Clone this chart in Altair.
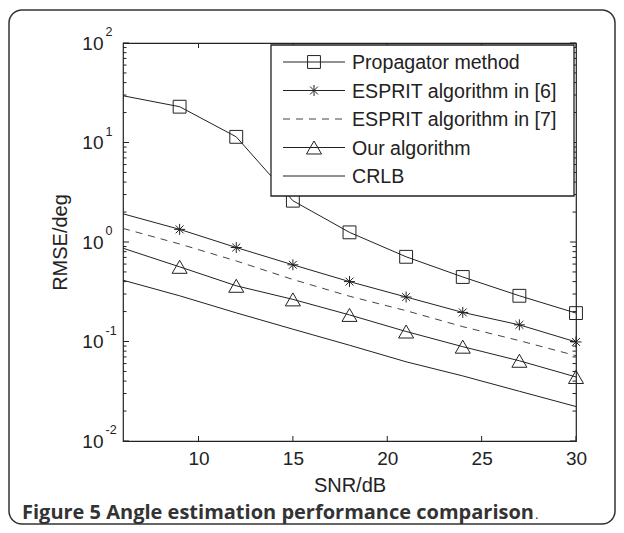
import altair as alt
import pandas as pd

# ---------------- data ----------------
snr = [6, 9, 12, 15, 18, 21, 24, 27, 30]
propagator = [29.5, 22.9, 11.4, 2.6, 1.25, 0.71, 0.445, 0.288, 0.193]
esprit6 = [1.92, 1.34, 0.88, 0.59, 0.40, 0.28, 0.196, 0.147, 0.099]
esprit7 = [1.37, 0.955, 0.645, 0.42, 0.285, 0.204, 0.141, 0.102, 0.072]
ours = [0.866, 0.563, 0.363, 0.265, 0.185, 0.126, 0.0887, 0.064, 0.044]
crlb = [0.413, 0.288, 0.194, 0.133, 0.0917, 0.0625, 0.0451, 0.0316, 0.0222]

series_names = ["Propagator method", "ESPRIT algorithm in [6]",
                "ESPRIT algorithm in [7]", "Our algorithm", "CRLB"]
series_values = [propagator, esprit6, esprit7, ours, crlb]

x_ticks = [10, 15, 20, 25, 30]
y_decades = [-2, -1, 0, 1, 2]
y_minor = [m * 10.0 ** k for k in range(-2, 2) for m in range(2, 10)]
caption_bold = "Figure 5 Angle estimation performance comparison"
caption_tail = "."

# ---------------- styling ----------------
W, H = 453, 398
INK = "#222222"
FONT = "Liberation Sans"
STAR = "M0,-1L0,1M-1,0L1,0M-0.72,-0.72L0.72,0.72M-0.72,0.72L0.72,-0.72"
marker_shape = {"Propagator method": "square", "ESPRIT algorithm in [6]": STAR,
                "Our algorithm": "triangle-up"}
marker_size = {"square": 165, STAR: 120, "triangle-up": 225}

rows = []
for name, vals in zip(series_names, series_values):
    for s, v in zip(snr, vals):
        rows.append({"snr": s, "value": v, "series": name})
df = pd.DataFrame(rows)

xs = alt.Scale(domain=[6, 30], nice=False, zero=False)
ys = alt.Scale(type="log", domain=[0.01, 100], nice=False)

XAX = alt.Axis(
    values=x_ticks, title="SNR/dB", grid=False, domain=False, ticks=False, tickSize=0,
    labelPadding=8, labelFontSize=19, labelFlush=False, labelFont=FONT, labelColor=INK,
    titleFont=FONT, titleFontSize=20, titleFontWeight="normal", titleColor=INK,
    titleX=W / 2, titleY=44, titleBaseline="middle", titleAlign="center")
YAX = alt.Axis(
    values=[10.0 ** k for k in y_decades], labelExpr="'10'", title="RMSE/deg",
    grid=False, domain=False, ticks=False, tickSize=0, labelPadding=20,
    labelFontSize=19, labelFont=FONT, labelColor=INK, labelFlush=False,
    labelBaseline="middle",
    titleFont=FONT, titleFontSize=20, titleFontWeight="normal", titleColor=INK,
    titleX=-63, titleY=H / 2, titleAngle=-90, titleBaseline="middle", titleAlign="center")


def xenc(field):
    return alt.X(field, scale=xs, axis=XAX)


def yenc(field):
    return alt.Y(field, scale=ys, axis=YAX)


base = alt.Chart(df)
one = pd.DataFrame({"a": [0]})

layers = []
# outer rounded frame
layers.append(alt.Chart(one).mark_rect(
    fillOpacity=0, stroke="#333333", strokeWidth=1.5, cornerRadius=13).encode(
    x=alt.value(-114), x2=alt.value(492), y=alt.value(-33), y2=alt.value(481)))

# series lines
for name in series_names:
    kw = dict(color=INK, strokeWidth=1)
    if name == "ESPRIT algorithm in [7]":
        kw = dict(color="#444444", strokeWidth=1, strokeDash=[7, 6])
    layers.append(base.transform_filter(alt.datum.series == name)
                  .mark_line(**kw).encode(x=xenc("snr:Q"), y=yenc("value:Q")))

# series markers
for name, shp in marker_shape.items():
    layers.append(base.transform_filter((alt.datum.series == name) & (alt.datum.snr >= 9))
                  .mark_point(shape=shp, size=marker_size[shp], filled=False,
                              stroke=INK, strokeWidth=1, opacity=1)
                  .encode(x=xenc("snr:Q"), y=yenc("value:Q")))

# inward ticks (MATLAB style)
xt = pd.DataFrame({"snr": x_ticks})
for y0, y1 in [(H, H - 5), (0, 5)]:
    layers.append(alt.Chart(xt).mark_rule(color=INK, strokeWidth=1).encode(
        x=xenc("snr:Q"), y=alt.value(y0), y2=alt.value(y1)))
ymaj = pd.DataFrame({"value": [10.0 ** k for k in y_decades]})
ymin = pd.DataFrame({"value": y_minor})
for d, ln in [(ymaj, 6), (ymin, 3.5)]:
    for x0, x1 in [(0, ln), (W, W - ln)]:
        layers.append(alt.Chart(d).mark_rule(color=INK, strokeWidth=1).encode(
            y=yenc("value:Q"), x=alt.value(x0), x2=alt.value(x1)))

# exponents of the y tick labels
expdf = pd.DataFrame({"value": [10.0 ** k for k in y_decades], "e": [str(k) for k in y_decades]})
layers.append(alt.Chart(expdf).mark_text(
    align="left", baseline="middle", fontSize=12.5, font=FONT, color=INK, dy=-11).encode(
    y=yenc("value:Q"), x=alt.value(-17.5), text="e:N"))

# legend box
LX0, LX1, LY0, LY1 = 148, 451, 2, 153
layers.append(alt.Chart(one).mark_rect(fill="white", stroke=INK, strokeWidth=1.3).encode(
    x=alt.value(LX0), x2=alt.value(LX1), y=alt.value(LY0), y2=alt.value(LY1)))
row_y = [19, 47.5, 76, 104.5, 133]
for name, ry in zip(series_names, row_y):
    kw = dict(color=INK, strokeWidth=1)
    if name == "ESPRIT algorithm in [7]":
        kw = dict(color="#444444", strokeWidth=1, strokeDash=[7, 6])
    layers.append(alt.Chart(one).mark_rule(**kw).encode(
        x=alt.value(160), x2=alt.value(222), y=alt.value(ry)))
    if name in marker_shape:
        shp = marker_shape[name]
        layers.append(alt.Chart(one).mark_point(
            shape=shp, size=marker_size[shp], filled=False, stroke=INK, strokeWidth=1,
            opacity=1).encode(x=alt.value(191), y=alt.value(ry)))
    layers.append(alt.Chart(one).mark_text(
        align="left", baseline="middle", font=FONT, fontSize=19.6, color=INK).encode(
        x=alt.value(229), y=alt.value(ry + 1), text=alt.value(name)))

# caption
layers.append(alt.Chart(one).mark_text(
    align="left", baseline="alphabetic", font="Open Sans", fontWeight="bold",
    fontSize=20, color="#333333").encode(
    x=alt.value(-101), y=alt.value(476), text=alt.value(caption_bold)))
layers.append(alt.Chart(one).mark_text(
    align="left", baseline="alphabetic", font="Open Sans", fontSize=13,
    color="#333333").encode(
    x=alt.value(412), y=alt.value(476), text=alt.value(caption_tail)))

chart = alt.layer(*layers).properties(
    width=W, height=H,
    autosize=alt.AutoSizeParams(type="none"),
    padding={"left": 115, "top": 35, "right": 40, "bottom": 84},
).configure_view(stroke=INK, strokeWidth=1.2)

chart.save("out.html", embed_options={"renderer": "svg", "actions": False})
